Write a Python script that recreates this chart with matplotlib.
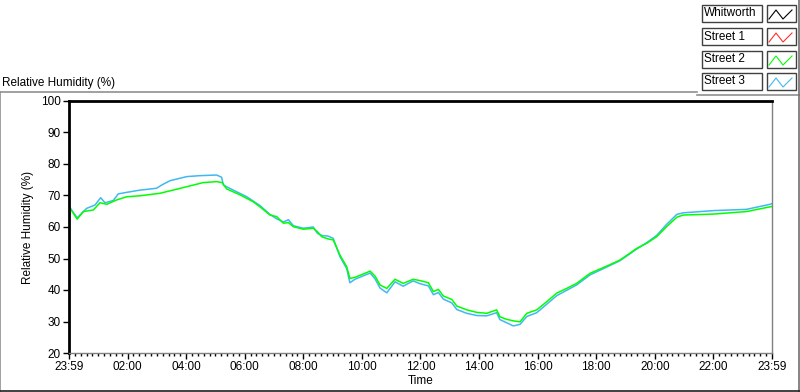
#!/usr/bin/env python3

import numpy as np
import matplotlib
matplotlib.use('Agg')
import matplotlib.pyplot as plt
from matplotlib.lines import Line2D
from matplotlib.patches import Rectangle
from matplotlib.ticker import MultipleLocator

plt.rcParams['font.family'] = ['Liberation Sans', 'DejaVu Sans']

# hours since 23:59 and relative humidity (%)
street2_t = [0, 0.11, 0.28, 0.49, 0.83, 1.06, 1.29, 1.63, 1.97, 2.42, 3.1, 3.68, 4.24, 4.58,
             5.04, 5.23, 5.38, 5.84, 6.29, 6.52, 6.86, 7.09, 7.32, 7.49, 7.66, 8.0, 8.34, 8.48,
             8.63, 8.85, 9.02, 9.25, 9.48, 9.59, 9.76, 10.05, 10.28, 10.45, 10.62, 10.85, 11.13,
             11.41, 11.75, 11.98, 12.27, 12.44, 12.61, 12.78, 13.07, 13.24, 13.58, 13.92, 14.26,
             14.6, 14.71, 14.94, 15.17, 15.4, 15.63, 15.97, 16.31, 16.65, 16.99, 17.33, 17.79,
             18.36, 18.81, 19.38, 19.72, 20.06, 20.4, 20.75, 20.97, 22.0, 23.13, 23.93, 24.0]
street2_rh = [66.1, 64.9, 62.5, 64.9, 65.4, 67.7, 67.2, 68.6, 69.6, 69.9, 70.7, 72.0, 73.3, 74.1,
              74.4, 74.1, 72.1, 70.2, 68.0, 66.4, 63.8, 63.3, 61.2, 61.4, 60.1, 59.3, 59.6, 58.5,
              56.9, 56.2, 55.9, 51.1, 47.4, 43.7, 44.0, 45.1, 46.0, 44.4, 41.6, 40.5, 43.4,
              42.1, 43.4, 43.0, 42.3, 39.5, 40.2, 38.1, 37.0, 34.9, 33.7, 32.9, 32.6,
              33.7, 31.5, 30.7, 30.2, 29.9, 32.6, 33.7, 36.3, 39.0, 40.5, 42.1, 45.3,
              47.6, 49.5, 53.2, 54.8, 56.9, 60.1, 63.1, 63.8, 64.1, 64.9, 66.4, 66.5]

street3_t = [0, 0.1, 0.28, 0.45, 0.6, 0.89, 1.08, 1.23, 1.51, 1.68, 1.97, 2.42, 2.99, 3.16, 3.45,
             4.02, 4.47, 5.04, 5.21, 5.27, 5.61, 6.07, 6.52, 6.86, 7.09, 7.32, 7.49, 7.66, 8.0,
             8.34, 8.48, 8.63, 8.85, 9.02, 9.25, 9.48, 9.59, 9.76, 10.05, 10.28, 10.45, 10.62,
             10.85, 11.13, 11.41, 11.75, 11.98, 12.27, 12.44, 12.61, 12.78, 13.07, 13.24, 13.58,
             13.92, 14.26, 14.6, 14.71, 14.94, 15.17, 15.4, 15.63, 15.97, 16.31, 16.65, 16.99,
             17.33, 17.79, 18.36, 18.81, 19.38, 19.72, 20.06, 20.4, 20.75, 20.97, 22.0, 23.13,
             23.93, 24.0]
street3_rh = [66.8, 65.2, 62.9, 64.5, 65.9, 67.0, 69.3, 67.7, 68.4, 70.5, 71.0, 71.7, 72.3, 73.3, 74.7,
              76.0, 76.3, 76.5, 75.8, 73.3, 71.7, 69.6, 66.8, 64.0, 62.6, 61.6, 62.3, 60.4, 59.6,
              60.0, 58.0, 57.3, 57.1, 56.4, 50.6, 46.8, 42.3, 43.4, 44.5, 45.4, 43.5, 40.6,
              39.1, 42.6, 41.2, 42.9, 42.0, 41.3, 38.5, 39.2, 37.1, 35.9, 33.8, 32.6,
              31.9, 31.8, 32.8, 30.6, 29.6, 28.6, 29.1, 31.6, 32.8, 35.5, 38.2, 39.9,
              41.6, 44.8, 47.3, 49.3, 53.0, 55.0, 57.3, 60.8, 64.0, 64.5, 65.2, 65.6,
              67.2, 67.4]

whitworth_t, whitworth_rh = [], []
street1_t, street1_rh = [], []

legend_names = ['Whitworth', 'Street 1', 'Street 2', 'Street 3']
legend_colors = ['black', '#ff3030', '#00ff00', '#40b8f0']
x_ticks = [0, 2, 4, 6, 8, 10, 12, 14, 16, 18, 20, 22, 24]
x_labels = ['23:59', '02:00', '04:00', '06:00', '08:00', '10:00', '12:00',
            '14:00', '16:00', '18:00', '20:00', '22:00', '23:59']

W, H = 800, 392
fig = plt.figure(figsize=(8, 3.92), dpi=100, facecolor='white')


def fx(px):
    return px / W


def fy(py):
    return 1 - py / H


ax = fig.add_axes([fx(69), fy(353), fx(772) - fx(69), fy(101) - fy(353)])

ax.plot(whitworth_t, whitworth_rh, color=legend_colors[0], lw=1)
ax.plot(street1_t, street1_rh, color=legend_colors[1], lw=1)
ax.plot(street3_t, street3_rh, color=legend_colors[3], lw=1.1)
ax.plot(street2_t, street2_rh, color=legend_colors[2], lw=1.1)

ax.set_xlim(0, 24)
ax.set_ylim(20, 100)
ax.set_xticks(x_ticks)
ax.set_xticklabels(x_labels)
ax.xaxis.set_minor_locator(MultipleLocator(0.2))
ax.yaxis.set_major_locator(MultipleLocator(10))
ax.tick_params(axis='both', which='major', direction='out', length=4, width=1,
               labelsize=8.5, colors='black', pad=2)
ax.tick_params(axis='x', which='minor', direction='out', length=2.5, width=1)

for s in ['left', 'top']:
    ax.spines[s].set_color('black')
    ax.spines[s].set_linewidth(2)
for s in ['right', 'bottom']:
    ax.spines[s].set_color('#808080')
    ax.spines[s].set_linewidth(1)

ax.set_xlabel('Time', fontsize=8.5, labelpad=1)
ax.set_ylabel('Relative Humidity (%)', fontsize=8.5, labelpad=5)

# panel frame and title
fig.text(fx(2), fy(83), 'Relative Humidity (%)', fontsize=8.5, va='center', ha='left')
frame = [((0, 697), (92, 92), '#909090'), ((0, 0), (92, 392), '#909090'),
         ((697, 799), (95, 95), '#909090'), ((799, 799), (0, 392), '#707070'),
         ((0, 800), (391, 391), '#202020')]
for xs, ys, c in frame:
    fig.add_artist(Line2D([fx(x) for x in xs], [fy(y) for y in ys], color=c, lw=1.2))

# legend boxes
row_top = [5, 28, 51, 73]
for name, c, top in zip(legend_names, legend_colors, row_top):
    fig.add_artist(Rectangle((fx(702), fy(top + 17)), fx(60), 17 / H, facecolor='white',
                             edgecolor='#404040', lw=1, transform=fig.transFigure))
    fig.text(fx(704), fy(top + 8.5), name, fontsize=8.5, va='center', ha='left')
    fig.add_artist(Rectangle((fx(767), fy(top + 17)), fx(29), 17 / H, facecolor='white',
                             edgecolor='#404040', lw=1, transform=fig.transFigure))
    icon_x = [769, 776, 783, 792]
    icon_y = [top + 14, top + 5, top + 14, top + 5]
    fig.add_artist(Line2D([fx(x) for x in icon_x], [fy(y) for y in icon_y], color=c, lw=0.8))

plt.savefig('out.png', dpi=100, facecolor='white')
